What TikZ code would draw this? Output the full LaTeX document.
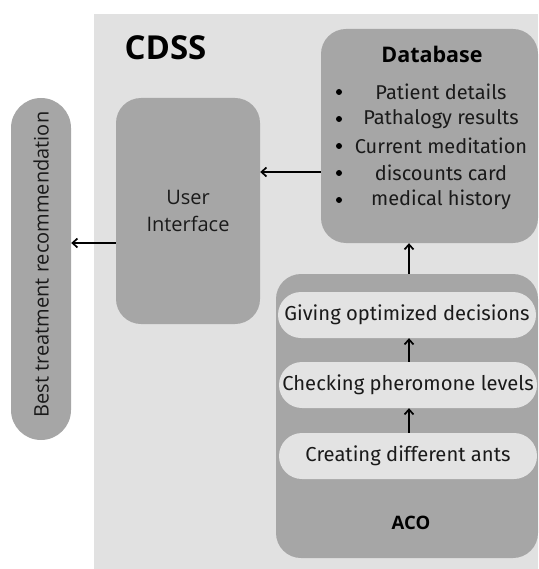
\documentclass[tikz,border=0pt]{standalone}
\usepackage{fontspec}
\setmainfont{Fira Sans}
\newfontfamily\headfont{Open Sans}
\usetikzlibrary{arrows.meta}
\definecolor{bgc}{HTML}{E1E1E1}
\definecolor{boxc}{HTML}{A6A6A6}
\definecolor{pillc}{HTML}{E3E3E3}
\definecolor{inkc}{HTML}{1A1A1A}
\tikzset{
  box/.style={fill=boxc, draw=none, rounded corners=25pt, inner sep=0pt, align=center, text=inkc, font=\headfont\fontsize{20}{27}\selectfont},
  pill/.style={fill=pillc, draw=none, rounded corners=23pt, minimum width=258pt, minimum height=46pt, inner sep=0pt, text=inkc, font=\fontsize{20.2}{27}\selectfont},
  txt/.style={inner sep=0pt, text=inkc, font=\fontsize{20}{27}\selectfont},
  dot/.style={circle, fill=black, inner sep=0pt, minimum size=6pt},
  arr/.style={-{Straight Barb[length=5pt,width=9pt]}, line width=1.7pt, black},
}
\begin{document}
\begin{tikzpicture}[x=1pt,y=-1pt]
\useasboundingbox (0,0) rectangle (538,569);
\fill[bgc] (94,14) rectangle (538,569);
\node[font=\headfont\fontsize{33}{36}\selectfont\bfseries, inner sep=0pt] (cdss) at (165.5,48) {CDSS};
\node[box, rounded corners=30pt, minimum width=60pt, minimum height=342pt] (best) at (41,269) {};
\node[inner sep=0pt, text=inkc, font=\headfont\fontsize{20}{27}\selectfont, rotate=90] (besttxt) at (41,264.5) {Best treatment recommendation};
\node[box, minimum width=144pt, minimum height=226pt] (ui) at (188,211) {User\\Interface};
\node[box, minimum width=217pt, minimum height=214pt] (db) at (429.5,136) {};
\node[font=\headfont\fontsize{21.5}{24}\selectfont\bfseries, inner sep=0pt] (dbt) at (432,54) {Database};
\foreach \y/\t [count=\i] in {92/Patient details,119/Pathalogy results,146/Current meditation,173/discounts card,200/medical history}{
  \node[dot] (b\i) at (339,\y) {};
  \node[txt] (it\i) at (441,\y) {\t};
}
\node[box, minimum width=262pt, minimum height=284pt] (aco) at (407,416) {};
\node[pill] (p1) at (407,315) {Giving optimized decisions};
\node[pill] (p2) at (408,385) {Checking pheromone levels};
\node[pill] (p3) at (408,456) {Creating different ants};
\node[font=\headfont\fontsize{18.5}{22}\selectfont\bfseries, inner sep=0pt] (acot) at (411,523) {ACO};
\draw[arr] (db.west |- 0,172) -- (ui.east |- 0,172);
\draw[arr] (ui.west |- 0,243) -- (best.east |- 0,243);
\draw[arr] (aco.north -| 409,0) -- (db.south -| 409,0);
\draw[arr] (p3.north -| 409,0) -- (p2.south -| 409,0);
\draw[arr] (p2.north -| 409,0) -- (p1.south -| 409,0);
\end{tikzpicture}
\end{document}
